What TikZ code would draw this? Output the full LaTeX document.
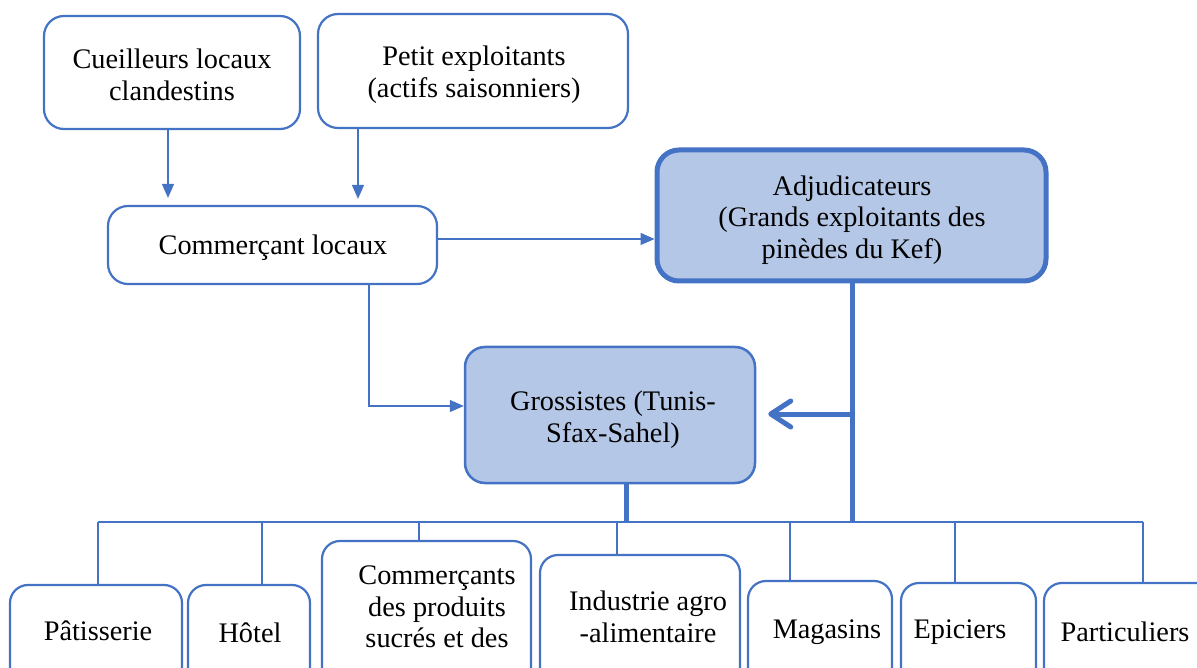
\documentclass[tikz,border=0pt]{standalone}
\usepackage{fontspec}
\setmainfont{Liberation Serif}
\usetikzlibrary{arrows.meta}
\definecolor{bord}{HTML}{4472C4}
\definecolor{fillb}{HTML}{B4C7E7}
\begin{document}
\begin{tikzpicture}[x=1pt,y=-1pt,
  box/.style={draw=bord, line width=2.2pt, rounded corners=20pt, fill=white, inner sep=0pt},
  bluebox/.style={box, fill=fillb},
  lbl/.style={font=\fontsize{28.3}{31.7}\selectfont, align=center, text=black, inner sep=0pt},
  conn/.style={draw=bord, line width=1.4pt},
  arr/.style={conn, -{Triangle[length=14pt,width=12pt]}},
  heavy/.style={draw=bord, line width=5pt},
]
\path[use as bounding box] (0,0) rectangle (1197,668);
\clip (0,0) rectangle (1197,668);

% top boxes
\node[box, minimum width=256pt, minimum height=113pt] (cue) at (172,72.5) {};
\node[box, minimum width=310pt, minimum height=114pt] (pet) at (473,71) {};
\node[box, minimum width=329pt, minimum height=78pt] (com) at (272.5,245) {};
\node[bluebox, line width=5pt, rounded corners=22pt, minimum width=389pt, minimum height=131pt] (adj) at (851.5,215.5) {};
\node[bluebox, line width=2.5pt, minimum width=290pt, minimum height=136pt] (gro) at (610,415) {};

\node[lbl] (tcue) at (172,74.5) {Cueilleurs locaux\\clandestins};
\node[lbl] (tpet) at (474,74.5) {Petit exploitants\\(actifs saisonniers)};
\node[lbl] (tcom) at (273,248) {Commerçant locaux};
\node[lbl] (tadj) at (852,220) {Adjudicateurs\\(Grands exploitants des\\pinèdes du Kef)};
\node[lbl] (tgro) at (613,420) {Grossistes (Tunis-\\Sfax-Sahel)};

% bottom boxes
\node[box, rounded corners=18pt, minimum width=172pt, minimum height=135pt] (pat) at (96,652.5) {};
\node[box, rounded corners=18pt, minimum width=122pt, minimum height=135pt] (hot) at (249,652.5) {};
\node[box, rounded corners=18pt, minimum width=209pt, minimum height=179pt] (cms) at (426.5,630.5) {};
\node[box, rounded corners=18pt, minimum width=200pt, minimum height=165pt] (ind) at (640,637.5) {};
\node[box, rounded corners=18pt, minimum width=144pt, minimum height=139pt] (mag) at (820,650.5) {};
\node[box, rounded corners=18pt, minimum width=135pt, minimum height=137pt] (epi) at (968.5,651.5) {};
\node[box, rounded corners=18pt, minimum width=170pt, minimum height=137pt] (par) at (1129,651.5) {};

\node[lbl] (tpat) at (98,631) {Pâtisserie};
\node[lbl] (thot) at (250,633) {Hôtel};
\node[lbl] (tcms) at (437,607) {Commerçants\\des produits\\sucrés et des};
\node[lbl] (tind) at (648,617) {Industrie agro\\-alimentaire};
\node[lbl] (tmag) at (827,632) {Magasins};
\node[lbl] (tepi) at (960,632) {Epiciers};
\node[lbl] (tpar) at (1125,632) {Particuliers};

% connectors top
\coordinate (x1) at (168,0);
\coordinate (x2) at (358,0);
\coordinate (x3) at (369,0);
\draw[arr, shorten >=7pt] (x1 |- cue.south) -- (x1 |- com.north);
\draw[arr, shorten >=6pt] (x2 |- pet.south) -- (x2 |- com.north);
\coordinate (y1) at (0,239);
\draw[arr] (com.east |- y1) -- (adj.west |- y1);
\coordinate (y2) at (0,406);
\draw[arr] (x3 |- com.south) -- (x3 |- y2) -- (gro.west |- y2);

% heavy lines
\coordinate (jct) at (852,414);
\coordinate (barL) at (98,522);
\coordinate (barR) at (1143,522);
\draw[heavy] (adj.south -| jct) -- (jct |- barL);
\draw[heavy, -{Straight Barb[length=20pt,width=26pt,round]}, shorten >=12pt] (jct) -- (jct -| gro.east);
\coordinate (gx) at (626,0);
\draw[heavy] (gx |- gro.south) -- (gx |- barL);

% distribution bar
\draw[conn] (barL) -- (barR);
\coordinate (d2) at (262,522);
\coordinate (d3) at (419,522);
\coordinate (d4) at (617,522);
\coordinate (d5) at (790,522);
\coordinate (d6) at (955,522);
\draw[conn] (barL) -- (barL |- pat.north);
\draw[conn] (d2) -- (d2 |- hot.north);
\draw[conn] (d3) -- (d3 |- cms.north);
\draw[conn] (d4) -- (d4 |- ind.north);
\draw[conn] (d5) -- (d5 |- mag.north);
\draw[conn] (d6) -- (d6 |- epi.north);
\draw[conn] (barR) -- (barR |- par.north);
\end{tikzpicture}
\end{document}
